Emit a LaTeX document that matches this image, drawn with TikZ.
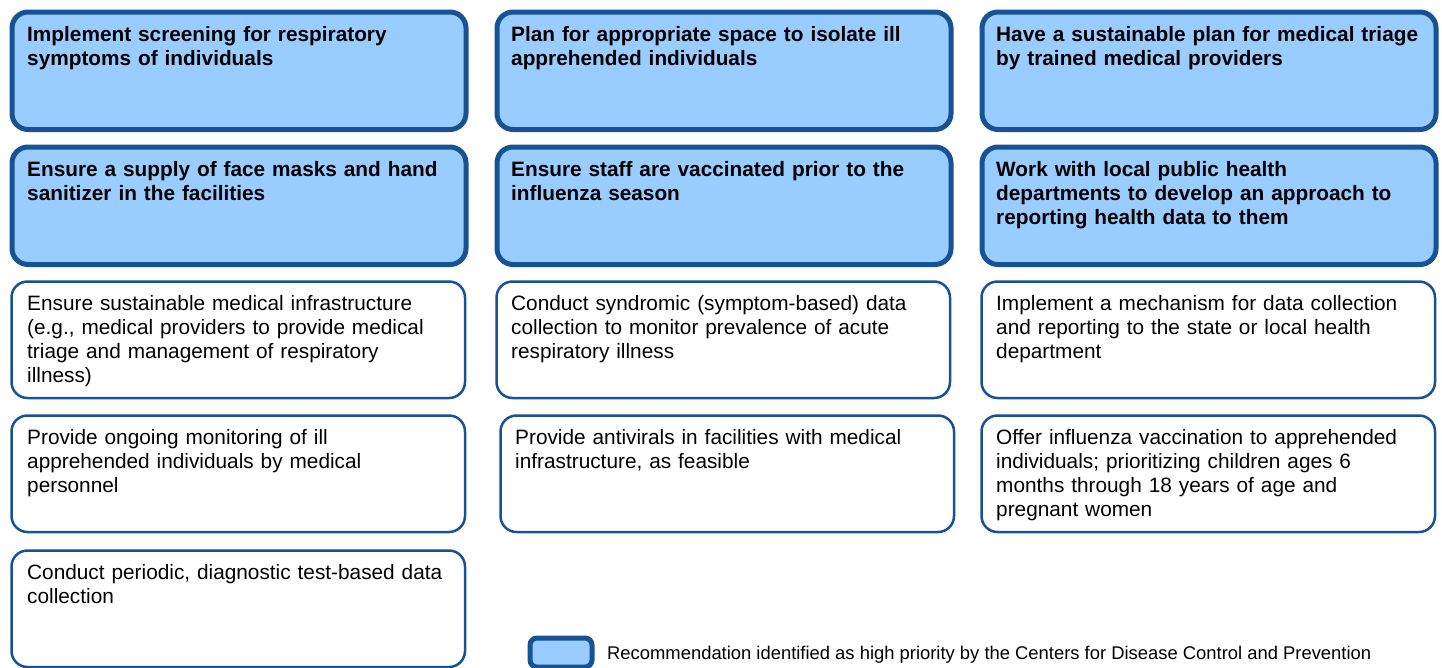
\documentclass[tikz,border=0pt]{standalone}
\usepackage{fontspec}
\setmainfont{Liberation Sans}
\definecolor{edgeblue}{RGB}{22,82,148}
\definecolor{fillblue}{RGB}{153,204,255}
\tikzset{
  hibox/.style={draw=edgeblue, line width=5pt, fill=fillblue, rounded corners=16pt, inner sep=0pt, anchor=north west, minimum width=454pt, minimum height=117.5pt},
  lobox/.style={draw=edgeblue, line width=2.5pt, fill=white, rounded corners=16pt, inner sep=0pt, anchor=north west, minimum width=453.5pt, minimum height=116.5pt},
  hitext/.style={anchor=base west, text width=450pt, align=left, inner sep=0pt, font=\fontsize{20.8}{24}\selectfont\bfseries},
  lotext/.style={anchor=base west, text width=450pt, align=left, inner sep=0pt, font=\fontsize{20.8}{24}\selectfont},
}
\begin{document}
\begin{tikzpicture}[x=1pt,y=-1pt]
\useasboundingbox (0,0) rectangle (1442,667);
% high priority row 1
\node[hibox] (b11) at (9.5,9.5) {};
\node[hibox] (b21) at (494.5,9.5) {};
\node[hibox] (b31) at (979.5,9.5) {};
% high priority row 2
\node[hibox] (b12) at (9.5,144.5) {};
\node[hibox] (b22) at (494.5,144.5) {};
\node[hibox] (b32) at (979.5,144.5) {};
% other rows
\node[lobox] (b13) at (10.25,280.25) {};
\node[lobox] (b23) at (495.25,280.25) {};
\node[lobox] (b33) at (980.25,280.25) {};
\node[lobox] (b14) at (10.25,414.25) {};
\node[lobox] (b24) at (499.25,414.25) {};
\node[lobox] (b34) at (980.25,414.25) {};
\node[lobox] (b15) at (10.25,549.25) {};
% texts
\node[hitext] (t11) at (27,41) {Implement screening for respiratory\\symptoms of individuals};
\node[hitext] (t21) at (511,41) {Plan for appropriate space to isolate ill\\apprehended individuals};
\node[hitext] (t31) at (996,41) {Have a sustainable plan for medical triage\\by trained medical providers};
\node[hitext] (t12) at (27,176) {Ensure a supply of face masks and hand\\sanitizer in the facilities};
\node[hitext] (t22) at (511,176) {Ensure staff are vaccinated prior to the\\influenza season};
\node[hitext] (t32) at (996,176) {Work with local public health\\departments to develop an approach to\\reporting health data to them};
\node[lotext] (t13) at (27,310) {Ensure sustainable medical infrastructure\\(e.g., medical providers to provide medical\\triage and management of respiratory\\illness)};
\node[lotext] (t23) at (511,310) {Conduct syndromic (symptom-based) data\\collection to monitor prevalence of acute\\respiratory illness};
\node[lotext] (t33) at (996,310) {Implement a mechanism for data collection\\and reporting to the state or local health\\department};
\node[lotext] (t14) at (27,444) {Provide ongoing monitoring of ill\\apprehended individuals by medical\\personnel};
\node[lotext] (t24) at (515,444) {Provide antivirals in facilities with medical\\infrastructure, as feasible};
\node[lotext] (t34) at (996,444) {Offer influenza vaccination to apprehended\\individuals; prioritizing children ages 6\\months through 18 years of age and\\pregnant women};
\node[lotext] (t15) at (27,579) {Conduct periodic, diagnostic test-based data\\collection};
% legend
\node[draw=edgeblue, line width=5pt, fill=fillblue, rounded corners=7pt, inner sep=0pt, anchor=north west, minimum width=62pt, minimum height=29pt] (leg) at (527.5,635.5) {};
\node[anchor=base west, inner sep=0pt, font=\fontsize{18.4}{22}\selectfont] (legt) at (607,659) {Recommendation identified as high priority by the Centers for Disease Control and Prevention};
\end{tikzpicture}
\end{document}
